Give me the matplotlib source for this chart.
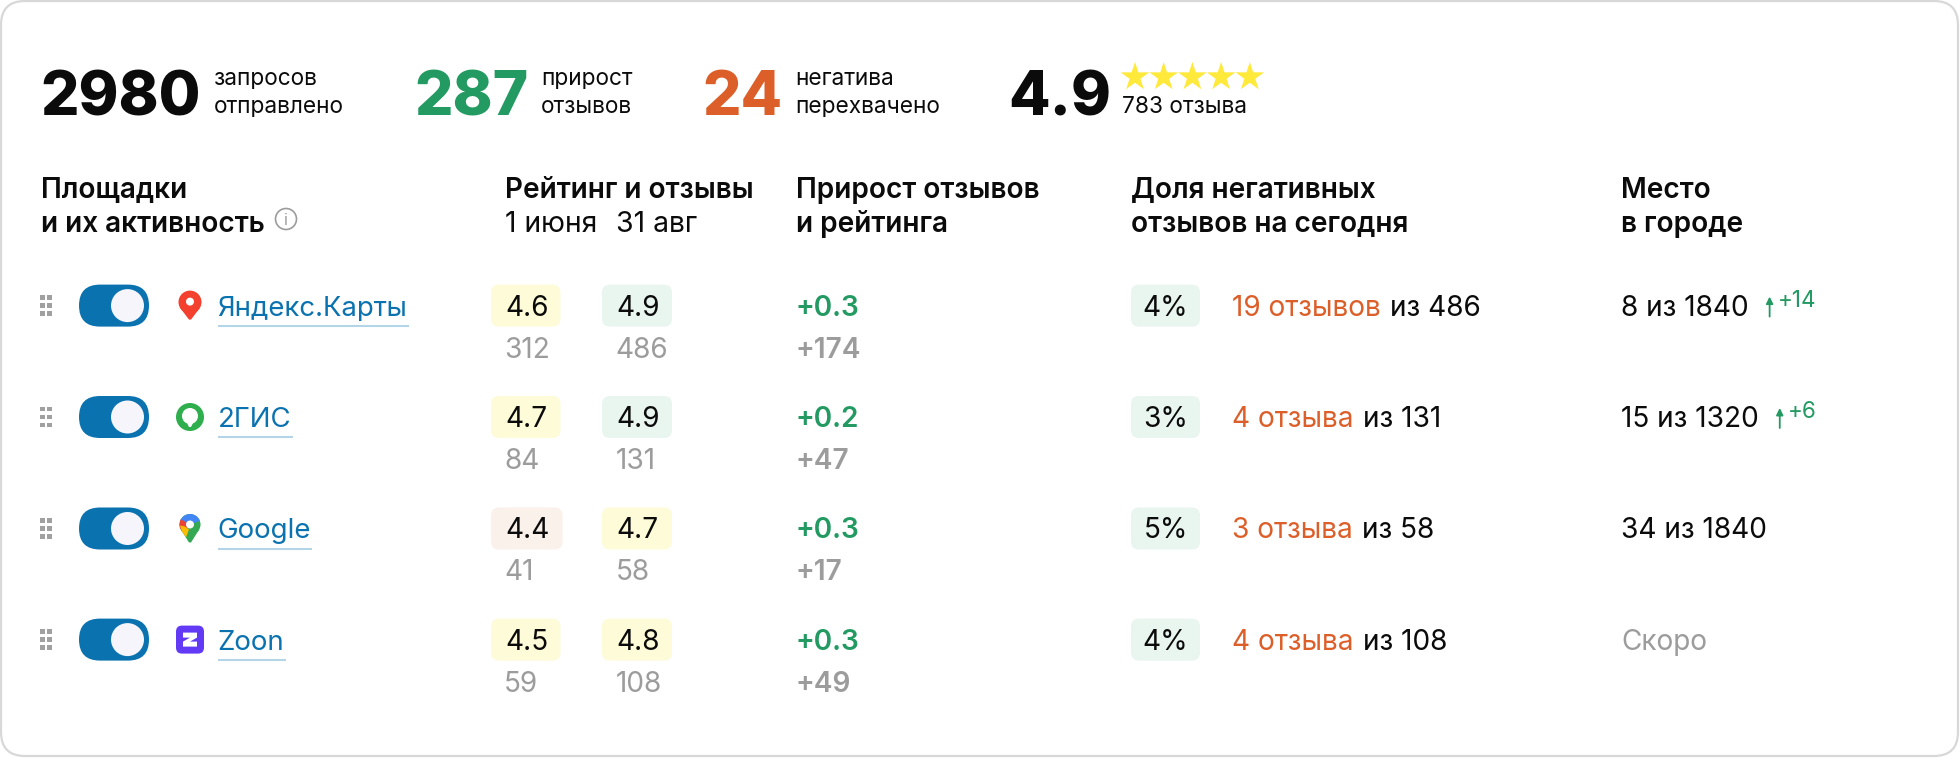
import matplotlib
matplotlib.use("Agg")
import matplotlib.pyplot as plt
from matplotlib.patches import FancyBboxPatch, Circle, Polygon, Wedge

# ---------- data ----------
summary_values = ["2980", "287", "24", "4.9"]
summary_labels = [("запросов", "отправлено"), ("прирост", "отзывов"), ("негатива", "перехвачено"), ("", "783 отзыва")]
star_count = 5
headers = [("Площадки", "и их активность"), ("Рейтинг и отзывы", ""), ("Прирост отзывов", "и рейтинга"),
           ("Доля негативных", "отзывов на сегодня"), ("Место", "в городе")]
date_labels = ["1 июня", "31 авг"]
platforms = ["Яндекс.Карты", "2ГИС", "Google", "Zoon"]
rating_start = [4.6, 4.7, 4.4, 4.5]
rating_end = [4.9, 4.9, 4.7, 4.8]
reviews_start = [312, 84, 41, 59]
reviews_end = [486, 131, 58, 108]
rating_growth = [0.3, 0.2, 0.3, 0.3]
reviews_growth = [174, 47, 17, 49]
negative_share = [4, 3, 5, 4]
negative_reviews = ["19 отзывов", "4 отзыва", "3 отзыва", "4 отзыва"]
place_text = ["8 из 1840", "15 из 1320", "34 из 1840", "Скоро"]
place_delta = [14, 6, None, None]

# ---------- style ----------
FONT = ["Inter", "DejaVu Sans"]
plt.rcParams["font.family"] = FONT
BLACK = "#0b0b0b"; GREEN = "#229a61"; ORANGE = "#dc5f2a"; GREY = "#9c9c9c"; BLUE = "#0b72b0"
YELLOW_BG = "#fefbd8"; GREEN_BG = "#e9f5ef"; PINK_BG = "#fbf1eb"
px = 0.72  # points per pixel at dpi 100
BODY = 28


def chip_colour(r):
    if r >= 4.9:
        return GREEN_BG
    if r >= 4.5:
        return YELLOW_BG
    return PINK_BG


fig = plt.figure(figsize=(19.6, 7.58), dpi=100, facecolor="white")
ax = fig.add_axes([0, 0, 1, 1])
ax.set_xlim(0, 1960); ax.set_ylim(758, 0); ax.axis("off")


def T(x, y, s, size=BODY, color=BLACK, weight="normal", ha="left"):
    return ax.text(x, y, s, fontsize=size * px, color=color, fontweight=weight, ha=ha, va="baseline")


def rbox(x0, y0, x1, y1, r, fc, ec="none", lw=0, z=1):
    ax.add_patch(FancyBboxPatch((x0 + r, y0 + r), x1 - x0 - 2 * r, y1 - y0 - 2 * r,
                                boxstyle=f"round,pad={r},rounding_size={r}", fc=fc, ec=ec, lw=lw, zorder=z))


def width(t):
    return t.get_window_extent(fig.canvas.get_renderer()).width


def pin(cx, top, bot, r, col):
    c = top + r
    ax.add_patch(Circle((cx, c), r, fc=col, ec="none", zorder=3))
    ax.add_patch(Polygon([[cx - r * 0.86, c + r * 0.5], [cx + r * 0.86, c + r * 0.5], [cx + 1, bot], [cx - 1, bot]],
                         fc=col, ec="none", zorder=3))


# card
rbox(1, 1, 1958, 756, 24, "white", ec="#d8d8d8", lw=1.6, z=0)

# summary
big_x = [40, 414, 702, 1008]
label_x = [214, 541, 795, 1122]
big_col = [BLACK, GREEN, ORANGE, BLACK]
for v, (a, b), x, lx, c in zip(summary_values, summary_labels, big_x, label_x, big_col):
    T(x, 115, v, size=60.5, color=c, weight=800)
    T(lx, 85, a, size=22.7)
    T(lx, 113, b, size=22.7)
ax.scatter([1135 + 28.7 * i for i in range(star_count)], [77] * star_count, marker="*", s=470,
           color="#ffe93b", edgecolors="none", zorder=3)

# headers
header_x = [41, 505, 795.5, 1130.5, 1621]
for (a, b), x in zip(headers, header_x):
    T(x, 198, a, size=28, weight=600)
    if b:
        T(x, 232, b, size=28, weight=600)
for s, x in zip(date_labels, [505, 616]):
    T(x, 232, s, size=28.3)
ax.add_patch(Circle((286, 219), 10.5, fc="none", ec=GREY, lw=1.2))
T(286, 225, "i", size=16, color=GREY, ha="center")

# rows
rows_y = [305.6, 417, 528.5, 639.6]
for i, y in enumerate(rows_y):
    # drag handle
    ax.scatter([42.5, 42.5, 42.5, 49.5, 49.5, 49.5], [y - 8, y, y + 8] * 2, marker="s", s=11, color="#a0a0a0",
               edgecolors="none")
    # toggle
    rbox(79, y - 21, 149, y + 21, 21, BLUE, z=2)
    ax.add_patch(Circle((127.5, y), 16.5, fc="#f5f5fb", ec="none", zorder=3))
    # icon
    if i == 0:
        pin(190, y - 15, y + 14, 11.5, "#f4402f")
        ax.add_patch(Circle((190, y - 4), 4, fc="white", ec="none", zorder=4))
    elif i == 1:
        ax.add_patch(Circle((190, y), 14, fc="#2fae4e", ec="none", zorder=3))
        ax.add_patch(Circle((190, y - 1), 8, fc="white", ec="none", zorder=4))
        ax.add_patch(Polygon([[186, y + 4], [194, y + 4], [191, y + 10], [189, y + 10]], fc="white", ec="none", zorder=4))
    elif i == 2:
        c = y - 4
        pin(190, c - 10.5, y + 14, 10.5, "#34a853")
        ax.add_patch(Wedge((190, c), 10.5, 200, 340, fc="#4285f4", ec="none", zorder=4))
        ax.add_patch(Wedge((190, c), 10.5, 130, 210, fc="#ea4335", ec="none", zorder=4))
        ax.add_patch(Polygon([[180, c + 1], [185, c + 2], [189, c + 5], [186, y + 9], [182, c + 7]], fc="#fbbc04", ec="none", zorder=4))
        ax.add_patch(Circle((190, c), 4, fc="white", ec="none", zorder=5))
    else:
        rbox(176, y - 14, 204, y + 14, 6, "#6239f5", z=3)
        ax.add_patch(Polygon([[183, y - 7], [197, y - 7], [197, y - 2], [190, y + 2], [197, y + 2], [197, y + 7],
                              [183, y + 7], [183, y + 2], [190, y - 2], [183, y - 2]], fc="white", ec="none", zorder=4))
    # link
    t = T(217.5, y + 10, platforms[i], size=27.6, color=BLUE)
    w = width(t)
    ax.plot([218, 218 + w + 1], [y + 20, y + 20], color="#b4d5e8", lw=1.5, solid_capstyle="butt")
    # ratings
    rbox(491, y - 21, 560.5 + (2 if rating_start[i] < 4.5 else 0), y + 21, 8, chip_colour(rating_start[i]))
    rbox(602, y - 21, 672, y + 21, 8, chip_colour(rating_end[i]))
    T(505, y + 10, f"{rating_start[i]:.1f}")
    T(616, y + 10, f"{rating_end[i]:.1f}")
    T(504, y + 52, str(reviews_start[i]), color=GREY)
    T(615.5, y + 52, str(reviews_end[i]), color=GREY)
    # growth
    T(795.5, y + 10, f"+{rating_growth[i]:.1f}", color=GREEN, weight=600)
    T(795.5, y + 52, f"+{reviews_growth[i]}", color=GREY, weight=600)
    # negative share
    rbox(1131, y - 21, 1200, y + 21, 8, GREEN_BG)
    T(1165.5, y + 10, f"{negative_share[i]}%", ha="center")
    t = T(1232, y + 10, negative_reviews[i], color=ORANGE)
    T(1232 + width(t) + 9, y + 10, f"из {reviews_end[i]}")
    # place
    soon = place_text[i] == "Скоро"
    t = T(1621, y + 10, place_text[i], color=GREY if soon else BLACK)
    if place_delta[i] is not None:
        ax_ = 1621 + width(t) + 21
        ax.annotate("", xy=(ax_, y - 9), xytext=(ax_, y + 11),
                    arrowprops=dict(arrowstyle="-|>", color=GREEN, lw=1.3, mutation_scale=10, shrinkA=0, shrinkB=0))
        T(ax_ + 8, y + 1, f"+{place_delta[i]}", size=22.5, color=GREEN)

fig.savefig("out.png", dpi=100, facecolor="white")
